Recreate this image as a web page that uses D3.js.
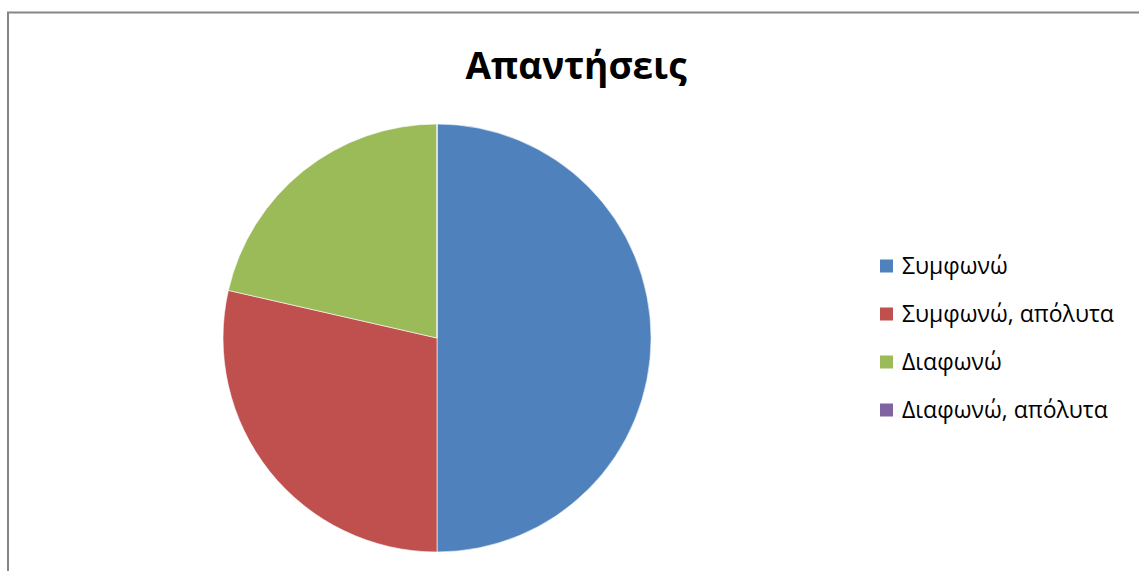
<!DOCTYPE html>
<html>
<head>
<meta charset="utf-8">
<script src="https://cdn.jsdelivr.net/npm/d3@7"></script>
<style>
  html, body { margin: 0; padding: 0; background: #fff; }
  svg { display: block; }
</style>
</head>
<body>
<svg id="chart"></svg>
<script>
    // Data
    var chartTitle = "Απαντήσεις";
    var categories = ["Συμφωνώ", "Συμφωνώ, απόλυτα", "Διαφωνώ", "Διαφωνώ, απόλυτα"];
    var values = [7, 4, 3, 0];
    var colors = ["#4f81bd", "#c0504d", "#9bbb59", "#8064a2"];

    // Variables
    var width = 1139;
    var height = 571;
    var cx = 437, cy = 338;
    var radius = 214;
    var font = "'Open Sans', 'Noto Sans', sans-serif";

    var svg = d3.select("#chart")
        .attr("width", width)
        .attr("height", height);

    // chart area border (only left and top visible)
    svg.append("path")
        .attr("d", "M8," + height + "V12.5H" + width)
        .attr("fill", "none")
        .attr("stroke", "#868686")
        .attr("stroke-width", 2);

    // Title
    svg.append("text")
        .attr("x", 576)
        .attr("y", 79)
        .attr("text-anchor", "middle")
        .attr("font-family", font)
        .attr("font-weight", "bold")
        .attr("font-size", 37)
        .attr("fill", "#000")
        .text(chartTitle);

    var color = d3.scaleOrdinal().domain(categories).range(colors);

    var pie = d3.pie().sort(null).value(function (d) { return d.value; });
    var arc = d3.arc().innerRadius(0).outerRadius(radius);

    var data = categories.map(function (c, i) { return { name: c, value: values[i] }; });

    var g = svg.append("g")
        .attr("transform", "translate(" + cx + "," + cy + ")");

    g.selectAll("path")
        .data(pie(data))
        .enter().append("path")
        .attr("d", arc)
        .style("fill", function (d) { return color(d.data.name); })
        .style("stroke", "#fff")
        .style("stroke-width", 0.6);

    // Legend
    var legendY = d3.scalePoint().domain(categories).range([266, 410]);

    var item = svg.append("g").selectAll("g")
        .data(categories)
        .enter().append("g")
        .attr("transform", function (d) { return "translate(880," + legendY(d) + ")"; });

    item.append("rect")
        .attr("x", 0)
        .attr("y", -6.5)
        .attr("width", 13)
        .attr("height", 13)
        .attr("fill", function (d) { return color(d); });

    item.append("text")
        .attr("x", 22)
        .attr("y", 7.5)
        .attr("font-family", font)
        .attr("font-size", 23)
        .attr("fill", "#000")
        .text(function (d) { return d; });
</script>
</body>
</html>
